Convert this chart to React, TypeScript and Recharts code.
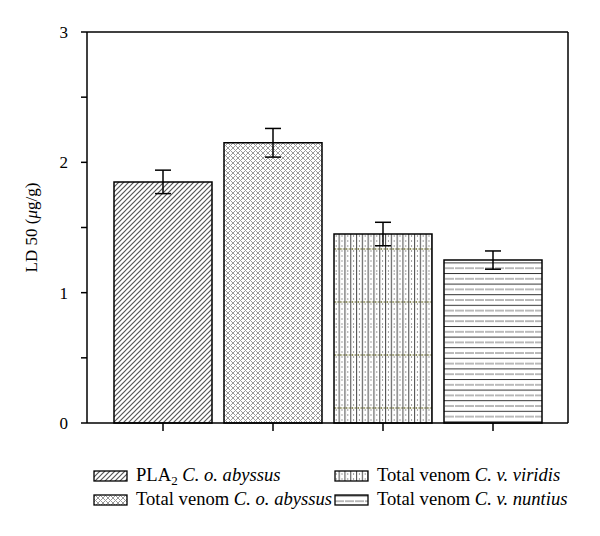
import React from 'react';
import { BarChart, Bar, XAxis, YAxis, ErrorBar, Cell, Legend } from 'recharts';

const categories = ['PLA2 C. o. abyssus', 'Total venom C. o. abyssus', 'Total venom C. v. viridis', 'Total venom C. v. nuntius'];
const ld50 = [1.85, 2.15, 1.45, 1.25];
const ld50Error = [0.09, 0.11, 0.09, 0.07];
const yTicks = [0, 0.5, 1, 1.5, 2, 2.5, 3];

const data = categories.map((name, i) => ({ name, value: ld50[i], err: ld50Error[i] }));

const FONT = '"Liberation Serif", "Times New Roman", serif';

function Patterns({ prefix }: { prefix: string }) {
  return (
    <defs>
      <pattern id={`${prefix}0`} patternUnits="userSpaceOnUse" width={5} height={5}>
        <rect width={5} height={5} fill="#fff" />
        <path d="M-1,1 L1,-1 M0,5 L5,0 M4,6 L6,4" stroke="#555" strokeWidth={1.2} />
      </pattern>
      <pattern id={`${prefix}1`} patternUnits="userSpaceOnUse" width={5} height={5}>
        <rect width={5} height={5} fill="#fff" />
        <path d="M0,0 L5,5 M0,5 L5,0" stroke="#9a9a9a" strokeWidth={1} />
      </pattern>
      <pattern id={`${prefix}2`} patternUnits="userSpaceOnUse" width={5.8} height={53}>
        <rect width={5.8} height={53} fill="#fff" />
        <line x1={0.6} y1={0} x2={0.6} y2={53} stroke="#444" strokeWidth={1} />
        <line x1={3.4} y1={0} x2={3.4} y2={53} stroke="#888" strokeWidth={0.8} strokeDasharray="2 3" />
        <line x1={1.5} y1={29} x2={5.5} y2={29} stroke="#8c8c5a" strokeWidth={2} strokeDasharray="1.5 1.5" />
      </pattern>
      <pattern id={`${prefix}3`} patternUnits="userSpaceOnUse" width={10} height={10.6}>
        <rect width={10} height={10.6} fill="#fff" />
        <line x1={0} y1={0.5} x2={10} y2={0.5} stroke="#333" strokeWidth={1} />
        <line x1={0} y1={5.8} x2={10} y2={5.8} stroke="#666" strokeWidth={0.9} strokeDasharray="6 1" />
      </pattern>
    </defs>
  );
}

function LegendContent() {
  const sw = { w: 33, h: 10 };
  const cols = [86, 327];
  const rows = [18, 42];
  const items = [
    { c: 0, r: 0, p: 0, plain: 'PLA', sub: '2', ital: 'C. o. abyssus' },
    { c: 0, r: 1, p: 1, plain: 'Total venom ', ital: 'C. o. abyssus' },
    { c: 1, r: 0, p: 2, plain: 'Total venom ', ital: 'C. v. viridis' },
    { c: 1, r: 1, p: 3, plain: 'Total venom ', ital: 'C. v. nuntius' },
  ];
  return (
    <svg width={592} height={75} style={{ display: 'block' }}>
      <Patterns prefix="lp" />
      {items.map((it, i) => {
        const x = cols[it.c];
        const y = rows[it.r];
        return (
          <g key={i}>
            <rect x={x} y={y} width={sw.w} height={sw.h} fill={`url(#lp${it.p})`} stroke="#000" strokeWidth={1.3} />
            <text x={x + 42} y={y + 10} fontFamily={FONT} fontSize={18.6} fill="#000">
              {it.sub ? (
                <>
                  <tspan>{it.plain}</tspan>
                  <tspan dy={4} fontSize={13}>{it.sub}</tspan>
                  <tspan dy={-4}> </tspan>
                </>
              ) : (
                <tspan>{it.plain}</tspan>
              )}
              <tspan fontStyle="italic">{it.ital}</tspan>
            </text>
          </g>
        );
      })}
    </svg>
  );
}

const YLabel = (props: any) => {
  const vb = props.viewBox || {};
  const cx = 23;
  const cy = (vb.y || 0) + (vb.height || 0) / 2;
  return (
    <text x={cx} y={cy} transform={`rotate(-90, ${cx}, ${cy})`} textAnchor="middle" dominantBaseline="central" fontFamily={FONT} fontSize={17} fill="#000">
      LD 50 (<tspan fontStyle="italic">μ</tspan>g/g)
    </text>
  );
};

export default function App() {
  return (
    <BarChart width={592} height={520} data={data} margin={{ top: 23, right: 31, left: 0, bottom: 0 }}>
      <Patterns prefix="bp" />
      <XAxis
        dataKey="name"
        height={30}
        tickSize={8}
        tickFormatter={() => ''}
        padding={{ left: 21, right: 20 }}
        axisLine={{ stroke: '#000', strokeWidth: 1.5 }}
        tickLine={{ stroke: '#000', strokeWidth: 1.5 }}
      />
      <XAxis
        xAxisId="top"
        orientation="top"
        dataKey="name"
        height={1}
        tick={false}
        tickLine={false}
        padding={{ left: 21, right: 20 }}
        axisLine={{ stroke: '#000', strokeWidth: 1.5 }}
      />
      <YAxis
        width={79}
        domain={[0, 3]}
        ticks={yTicks}
        interval={0}
        tickSize={6}
        tickMargin={13}
        tickFormatter={(v: number) => (Number.isInteger(v) ? String(v) : '')}
        tick={{ fontFamily: FONT, fontSize: 17, fill: '#000' }}
        axisLine={{ stroke: '#000', strokeWidth: 1.5 }}
        tickLine={{ stroke: '#000', strokeWidth: 1.5 }}
        label={<YLabel />}
      />
      <YAxis
        yAxisId="right"
        orientation="right"
        width={1}
        domain={[0, 3]}
        tick={false}
        tickLine={false}
        axisLine={{ stroke: '#000', strokeWidth: 1.5 }}
      />
      <Legend verticalAlign="bottom" content={() => <LegendContent />} wrapperStyle={{ left: 0, bottom: 0, width: 592, height: 75 }} />
      <Bar dataKey="value" barSize={98} stroke="#000" strokeWidth={1.5} isAnimationActive={false}>
        {data.map((d, i) => (
          <Cell key={d.name} fill={`url(#bp${i})`} />
        ))}
        <ErrorBar dataKey="err" width={8} stroke="#000" strokeWidth={1.5} isAnimationActive={false} />
      </Bar>
    </BarChart>
  );
}
